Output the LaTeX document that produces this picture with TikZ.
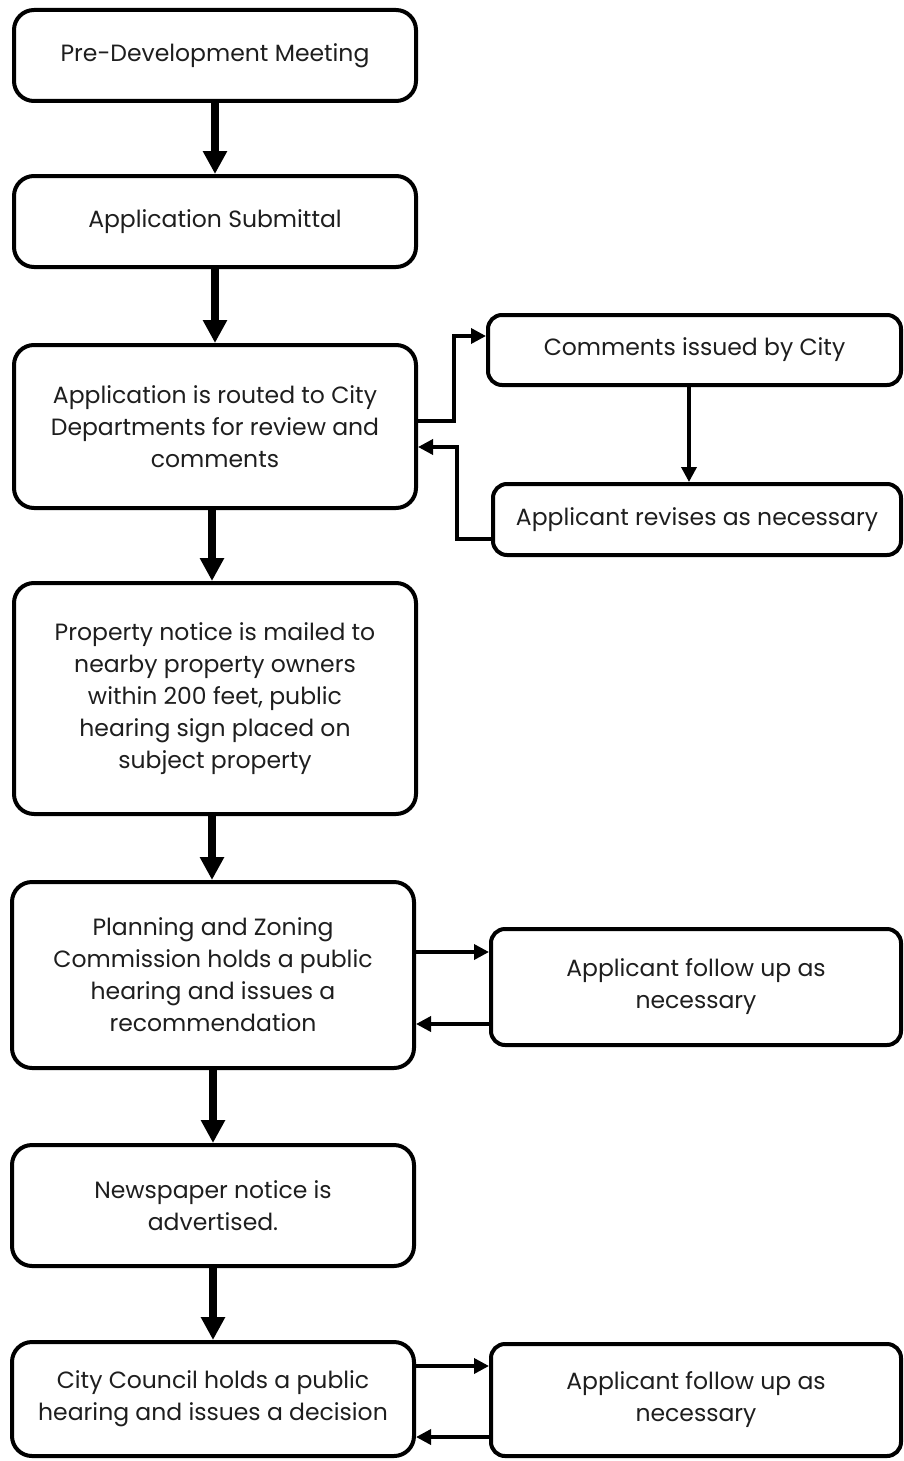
\documentclass[tikz,border=0pt]{standalone}
\usepackage{fontspec}
\setmainfont{Poppins}
\usetikzlibrary{positioning,arrows.meta,calc}
\definecolor{ink}{HTML}{1E1E1E}
\tikzset{
  box/.style={draw=black, line width=4pt, rounded corners=20pt, fill=white,
    align=center, inner sep=6pt, text=ink, minimum width=402pt},
  sbox/.style={draw=black, line width=4pt, rounded corners=14pt, fill=white,
    align=center, inner sep=6pt, text=ink},
  arr/.style={-{Triangle[length=23pt,width=23pt]}, line width=8pt},
  tarr/.style={-{Triangle[length=15pt,width=15pt]}, line width=3.5pt},
}

\begin{document}
\begin{tikzpicture}[font=\fontsize{23.5pt}{32pt}\selectfont]
    \useasboundingbox (0,0) rectangle (904pt,-1461pt);
    % main column
    \node[box, minimum height=91pt] (b1) at (215pt,-55.5pt) {Pre-Development Meeting};
    \node[box, minimum height=91pt, below=71pt of b1] (b2) {Application Submittal};
    \node[box, minimum height=163pt, below=74pt of b2] (b3)
      {Application is routed to City\\Departments for review and\\comments};
    \node[box, minimum height=231pt, below=71pt of b3] (b4)
      {Property notice is mailed to\\nearby property owners\\within 200 feet, public\\hearing sign placed on\\subject property};
    \node[box, minimum height=186pt, below=64pt of b4, xshift=-2pt] (b5)
      {Planning and Zoning\\Commission holds a public\\hearing and issues a\\recommendation};
    \node[box, minimum height=121pt, below=73pt of b5] (b6) {Newspaper notice is\\advertised.};
    \node[box, minimum height=114pt, below=72pt of b6] (b7)
      {City Council holds a public\\hearing and issues a decision};
    % side boxes
    \node[sbox, minimum width=413pt, minimum height=70pt] (c1) at (694.5pt,-350pt) {Comments issued by City};
    \node[sbox, minimum width=408pt, minimum height=71pt] (c2) at (697pt,-519.5pt) {Applicant revises as necessary};
    \node[sbox, minimum width=410pt, minimum height=116pt] (f1) at (696pt,-987pt) {Applicant follow up as\\necessary};
    \node[sbox, minimum width=410pt, minimum height=112pt] (f2) at (696pt,-1400pt) {Applicant follow up as\\necessary};

    \draw[arr] (b1) -- (b2);
    \draw[arr] (b2) -- (b3);
    \draw[arr] ([xshift=-3pt]b3.south) -- ([xshift=-3pt]b3.south |- b4.north);
    \draw[arr] ([xshift=-3pt]b4.south) -- ([xshift=-3pt]b4.south |- b5.north);
    \draw[arr] (b5) -- (b6);
    \draw[arr] (b6) -- (b7);

    \draw[tarr] ([yshift=5.5pt]b3.east) -- ++(36pt,0) |- ([yshift=14pt]c1.west);
    \draw[tarr] ([xshift=-5.5pt]c1.south) -- ([xshift=-5.5pt]c1.south |- c2.north);
    \draw[tarr] ([yshift=-19.5pt]c2.west) -- ++(-34pt,0) |- ([yshift=-20.5pt]b3.east);
    \draw[tarr] ([yshift=23pt]b5.east) -- ([yshift=23pt]b5.east -| f1.west);
    \draw[tarr] ([yshift=-49pt]b5.east -| f1.west) -- ([yshift=-49pt]b5.east);
    \draw[tarr] ([yshift=33pt]b7.east) -- ([yshift=33pt]b7.east -| f2.west);
    \draw[tarr] ([yshift=-38pt]b7.east -| f2.west) -- ([yshift=-38pt]b7.east);
  \end{tikzpicture}
\end{document}
